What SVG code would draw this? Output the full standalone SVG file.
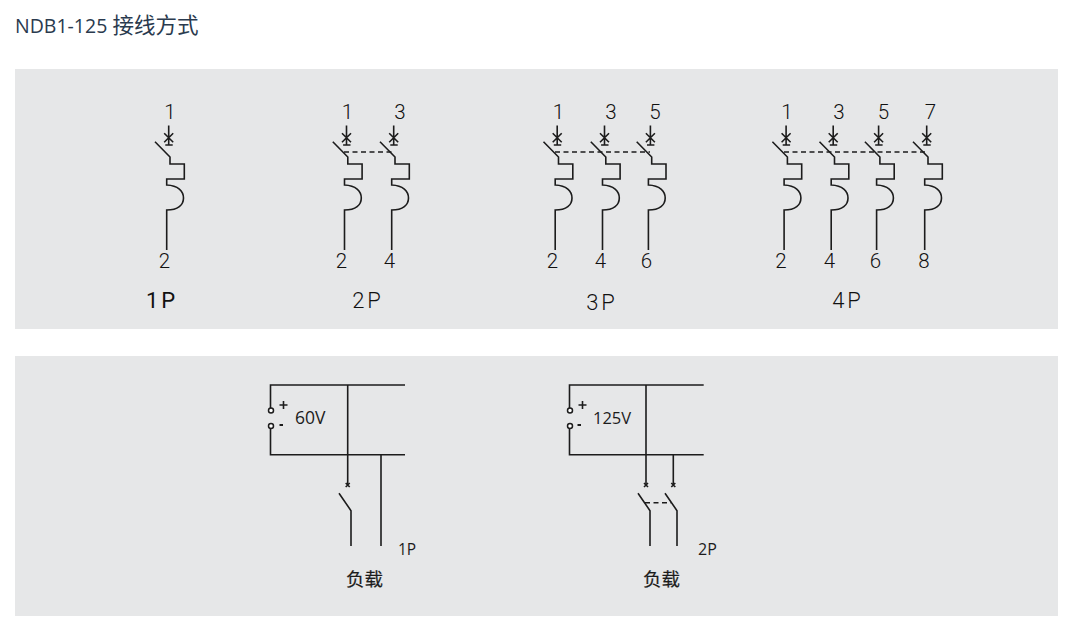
<svg xmlns="http://www.w3.org/2000/svg" width="1068" height="625" viewBox="0 0 1068 625">
<style>
.panel{fill:#e6e7e8}
.w{fill:none;stroke:#1c1c1c;stroke-width:1.6}
.d{fill:none;stroke:#1c1c1c;stroke-width:1.5;stroke-dasharray:5 3.5}
.o{fill:#fff;stroke:#1c1c1c;stroke-width:1.5}
.t{font-family:Roboto,"Liberation Sans",sans-serif;font-size:20.500px;font-weight:300;fill:#111;text-anchor:middle}
.p{letter-spacing:3px;font-size:22px}
.n{font-family:"Open Sans","Noto Sans CJK SC",sans-serif;fill:#1c1c1c}
.c{font-family:"Noto Sans CJK SC",sans-serif;fill:#1c1c1c;font-size:18.500px;stroke:#1c1c1c;stroke-width:.2}
</style>
<defs>
<g id="pole">
<path class="w" d="M-1.300 125.500V145M-4.700 145H2.700M-5.800 133.200L3.200 142.200M3.200 133.200L-5.800 142.200M-15 141.700L0 157V164H14.300V179H-3.300V185C8 185.500 13.500 191 13.500 198C13.500 205 8 210 -3.300 210V250"/>
</g>
<path id="x" class="w" d="M-2 -2L2 2M2 -2L-2 2"/>
</defs>
<text id="title" x="15" y="32.500" font-family="'Open Sans','Noto Sans CJK SC',sans-serif" font-size="19.500" fill="#2a3a4e">NDB1-125 <tspan font-family="'Noto Sans CJK SC',sans-serif" font-size="21.500">接线方式</tspan></text>
<rect class="panel" x="15" y="69" width="1043" height="260"/>
<rect class="panel" x="15" y="356" width="1043" height="260"/>
<g id="connectors">
<path class="d" d="M344 152H392"/>
<path class="d" d="M555 152H650"/>
<path class="d" d="M784 152H926"/>
</g>
<g id="n1p">
<use href="#pole" x="170"/>
<text class="t" x="170" y="118.500">1</text><text class="t" x="164.500" y="267.500">2</text>
<text class="t p" x="162" y="308" style="font-weight:400">1P</text>
</g>
<g id="n2p">
<use href="#pole" x="347.800"/><use href="#pole" x="395"/>
<text class="t" x="347.500" y="118.500">1</text><text class="t" x="400" y="118.500">3</text>
<text class="t" x="341.500" y="267.500">2</text><text class="t" x="389.500" y="267.500">4</text>
<text class="t p" x="368" y="308">2P</text>
</g>
<g id="n3p">
<use href="#pole" x="558.500"/><use href="#pole" x="605.800"/><use href="#pole" x="651.700"/>
<text class="t" x="558.500" y="118.500">1</text><text class="t" x="611" y="118.500">3</text><text class="t" x="655" y="118.500">5</text>
<text class="t" x="552.500" y="267.500">2</text><text class="t" x="600.500" y="267.500">4</text><text class="t" x="646.500" y="267.500">6</text>
<text class="t p" x="602" y="310">3P</text>
</g>
<g id="n4p">
<use href="#pole" x="787.400"/><use href="#pole" x="834.500"/><use href="#pole" x="879.900"/><use href="#pole" x="928"/>
<text class="t" x="787" y="118.500">1</text><text class="t" x="839" y="118.500">3</text><text class="t" x="883.500" y="118.500">5</text><text class="t" x="930.500" y="118.500">7</text>
<text class="t" x="781" y="267.500">2</text><text class="t" x="829.500" y="267.500">4</text><text class="t" x="875.500" y="267.500">6</text><text class="t" x="924" y="267.500">8</text>
<text class="t p" x="848" y="308">4P</text>
</g>
<g id="n60v">
<path class="w" d="M405 385H270.500V408M270.500 428.500V454.700H405M347.700 385V484M381 454.700V546M339 493.300L351 510.700V546"/>
<use href="#x" x="347.700" y="485"/>
<circle class="o" cx="271" cy="410.500" r="2.500"/><circle class="o" cx="271" cy="426" r="2.500"/>
<path class="w" d="M279.500 405H287.500M283.500 401V409"/>
<path class="w" style="stroke-width:2" d="M279.500 425H283"/>
<text class="n" x="295" y="424" font-size="17.500">60V</text>
<text class="n" x="398" y="555.300" font-size="15.500">1P</text>
<text class="c" x="346" y="586">负载</text>
</g>
<g id="n125v">
<path class="w" d="M703.700 385H569.500V408M569.500 428.500V454.700H703.700M646 385V484M673.300 454.700V484M638 493.300L650 510.700V546M665 493.300L677 510.700V546"/>
<path class="d" d="M645 502.700H671"/>
<use href="#x" x="646" y="485"/><use href="#x" x="673.300" y="485"/>
<circle class="o" cx="570" cy="410.500" r="2.500"/><circle class="o" cx="570" cy="426" r="2.500"/>
<path class="w" d="M578.500 405H586.500M582.500 401V409"/>
<path class="w" style="stroke-width:2" d="M577.500 425H581"/>
<text class="n" x="593" y="424" font-size="16.500">125V</text>
<text class="n" x="698" y="555.300" font-size="16">2P</text>
<text class="c" x="643" y="586">负载</text>
</g>
</svg>
